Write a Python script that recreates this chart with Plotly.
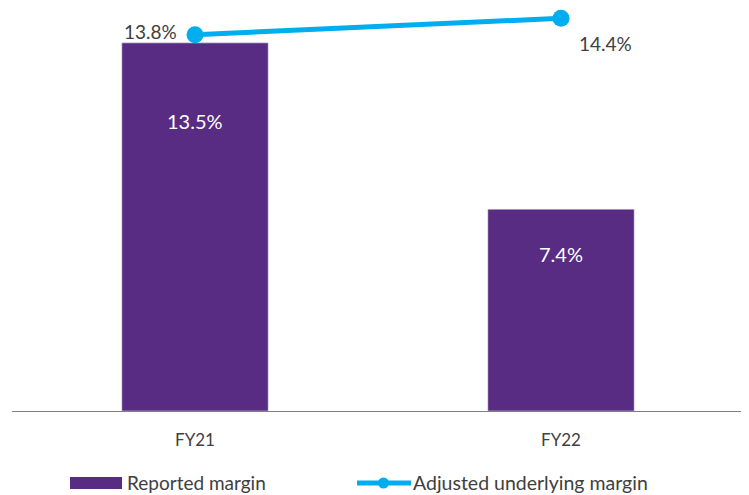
import plotly.graph_objects as go

categories = ["FY21", "FY22"]
reported_margin = [13.5, 7.4]
adjusted_margin = [13.8, 14.4]
bar_labels = ["13.5%", "7.4%"]
line_labels = ["13.8%", "14.4%"]

FONT = "Lato"
OFF = 8  # page body margin
W, H = 749 - OFF, 495 - OFF
L, R, T, B = 12 - OFF, 5, 0, 84
pw = W - L - R
ph = H - T - B
ppu = 27.27  # pixels per percentage point
ymax = ph / ppu

fig = go.Figure()
fig.add_trace(go.Bar(x=categories, y=reported_margin, marker_color="#582C83",
                     width=0.4, name="Reported margin", showlegend=False))
fig.add_trace(go.Scatter(x=categories, y=adjusted_margin, mode="lines+markers",
                         line=dict(color="#00AEEF", width=5),
                         marker=dict(size=17, color="#00AEEF"),
                         name="Adjusted underlying margin", showlegend=False, cliponaxis=False))

# bar value labels
for c, v, t, ys in zip(categories, reported_margin, bar_labels, [-78, -45]):
    fig.add_annotation(x=c, y=v, text=t, showarrow=False, yshift=ys,
                       xanchor="center", yanchor="middle",
                       font=dict(family=FONT, size=20, color="white"))
# line value labels
for c, v, t, xs, ys in zip(categories, adjusted_margin, line_labels, [-45, 44], [3, -25]):
    fig.add_annotation(x=c, y=v, text=t, showarrow=False, xshift=xs, yshift=ys,
                       xanchor="center", yanchor="middle",
                       font=dict(family=FONT, size=19, color="#404040"))

def px(x):
    return (x - OFF - L) / pw

def py(y):
    return (H - B - (y - OFF)) / ph

# custom legend
fig.add_shape(type="rect", xref="paper", yref="paper", x0=px(70), x1=px(122),
              y0=py(489), y1=py(477), fillcolor="#582C83", line_width=0)
fig.add_annotation(xref="paper", yref="paper", x=px(125), y=py(483), xanchor="left",
                   yanchor="middle", text="Reported margin", showarrow=False,
                   font=dict(family=FONT, size=19, color="#404040"))
fig.add_shape(type="line", xref="paper", yref="paper", x0=px(357), x1=px(411),
              y0=py(483), y1=py(483), line=dict(color="#00AEEF", width=5))
fig.add_shape(type="circle", xref="paper", yref="paper", x0=px(378), x1=px(389),
              y0=py(488.5), y1=py(477.5), fillcolor="#00AEEF", line_width=0)
fig.add_annotation(xref="paper", yref="paper", x=px(411), y=py(483), xanchor="left",
                   yanchor="middle", text="Adjusted underlying margin", showarrow=False,
                   font=dict(family=FONT, size=19.5, color="#404040"))

fig.update_layout(
    width=W, height=H, margin=dict(l=L, r=R, t=T, b=B, pad=0),
    plot_bgcolor="white", paper_bgcolor="white",
    showlegend=False,
    xaxis=dict(showline=True, linecolor="#808080", linewidth=1, ticks="",
               tickfont=dict(family=FONT, size=17, color="#404040"),
               showgrid=False, ticklabelstandoff=14),
    yaxis=dict(range=[0, ymax], visible=False, showgrid=False),
)
fig.write_html("out.html")
